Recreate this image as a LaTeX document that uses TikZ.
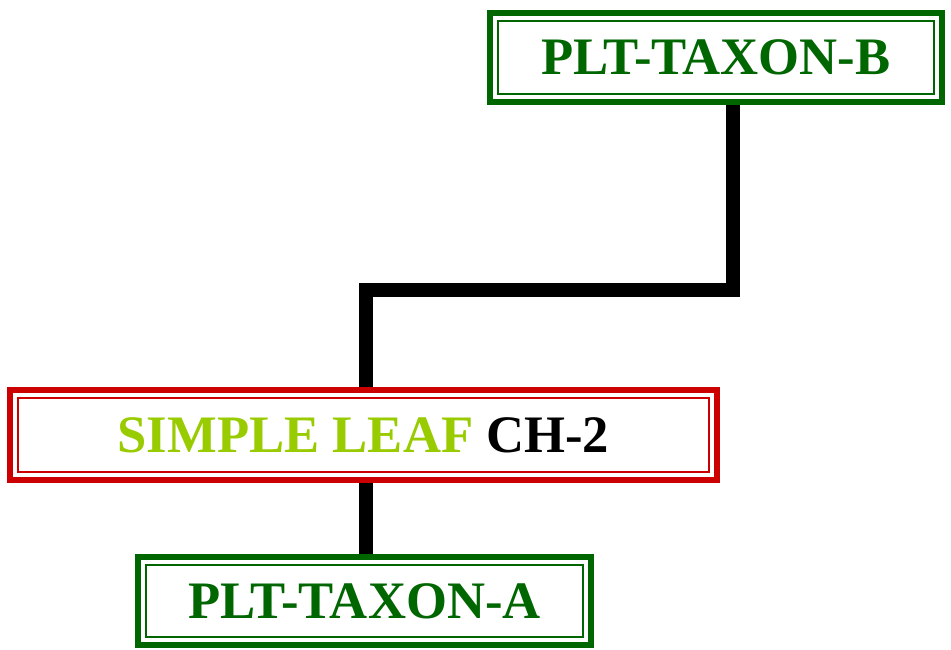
\documentclass[tikz,border=0pt]{standalone}
\usepackage{fontspec}
\setmainfont{Liberation Serif}
\usetikzlibrary{backgrounds}

\definecolor{taxgreen}{RGB}{0,102,0}
\definecolor{leafred}{RGB}{204,0,0}
\definecolor{leafyellow}{RGB}{153,204,0}

\tikzset{
  taxbox/.style={draw=#1, fill=white, line width=4.5pt, inner sep=0pt,
    font=\fontsize{39.5}{41}\selectfont\bfseries,
    path picture={\draw[#1, line width=1.9pt]
      ([shift={(6pt,6pt)}]path picture bounding box.south west) rectangle
      ([shift={(-6pt,-6pt)}]path picture bounding box.north east);}},
  link/.style={draw=black, line width=9.8pt}
}

\begin{document}
\begin{tikzpicture}[x=0.75pt, y=-0.75pt]
\useasboundingbox (0,0) rectangle (951,650);
\node[taxbox=taxgreen, minimum width=339pt, minimum height=67pt, text=taxgreen] (taxonB) at (716,57.5) {PLT-TAXON-B};
\node[taxbox=leafred, minimum width=530pt, minimum height=67.5pt] (leafCH) at (363.5,435) {\textcolor{leafyellow}{SIMPLE LEAF} CH-2};
\node[taxbox=taxgreen, minimum width=340pt, minimum height=66pt, text=taxgreen] (taxonA) at (364.5,601) {PLT-TAXON-A};
\coordinate (elbow) at (366,290);
\begin{scope}[on background layer]
\draw[link] ([xshift=12.75pt]taxonB.south) |- (elbow) -- (elbow |- leafCH.north);
\draw[link] (elbow |- leafCH.south) -- (elbow |- taxonA.north);
\end{scope}
\end{tikzpicture}
\end{document}
